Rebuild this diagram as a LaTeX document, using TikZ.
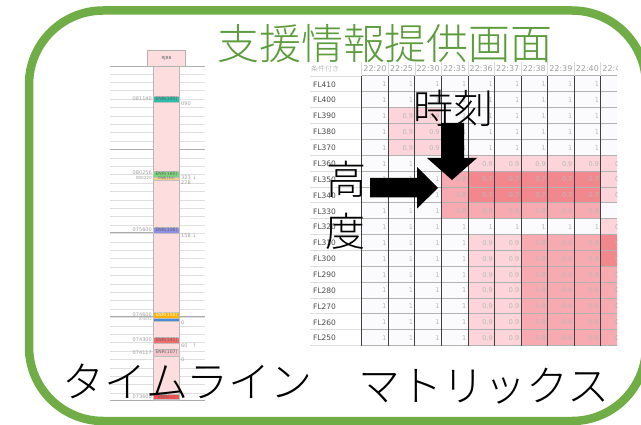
\documentclass[tikz,border=0pt]{standalone}
\usepackage{fontspec}
\setmainfont{DejaVu Sans}
\newfontfamily\cjk{Noto Sans CJK JP}[UprightFont={* Light}]
\definecolor{framegreen}{HTML}{70AD47}
\definecolor{titlegreen}{HTML}{5C9C3C}
\definecolor{colpink}{HTML}{FDDDDD}
\definecolor{ca}{HTML}{FBFBFD}
\definecolor{cb}{HTML}{FCD4D9}
\definecolor{cc}{HTML}{F7AAB0}
\definecolor{cd}{HTML}{F2888E}
\definecolor{evteal}{HTML}{2BBFAA}
\definecolor{evgreen}{HTML}{7CD67C}
\definecolor{evtan}{HTML}{F6CF8A}
\definecolor{evblue}{HTML}{8F8FE6}
\definecolor{evorange}{HTML}{FFB000}
\definecolor{evbar}{HTML}{4A8AD6}
\definecolor{evred}{HTML}{F36B6B}
\definecolor{evpink}{HTML}{F4C6CC}
\definecolor{evred2}{HTML}{F25050}
\def\laba{1}\def\labb{0.9}\def\labc{0.8}\def\labd{0.7}
\begin{document}
\begin{tikzpicture}[x=1pt,y=-1pt,
  jp/.style={font=\cjk\fontsize{41}{46}\selectfont, inner sep=0, anchor=base},
  tinytext/.style={font=\fontsize{5}{5.5}\selectfont, text=gray!75, inner sep=0},
  evbox/.style={draw=gray!50, line width=0.3pt, minimum width=26pt, inner sep=0, font=\fontsize{4.6}{5}\selectfont, text=black!60},
  rowlab/.style={font=\fontsize{7.5}{8}\selectfont, text=black!70, inner sep=0, anchor=west},
  cellnum/.style={font=\fontsize{6.5}{7}\selectfont, text=gray!55, inner sep=0, anchor=east},
  headlab/.style={font=\fontsize{8}{9}\selectfont, text=gray!75, inner sep=0},
  blockarrow/.style={fill=black}]
\useasboundingbox (0,0) rectangle (641,425);
\fill[white] (0,0) rectangle (641,425);

% ---------- frame ----------
\draw[framegreen, line width=8.5pt, rounded corners=74pt] (29,10.5) rectangle (646,421);

% ---------- timeline ----------
\foreach \k in {0,...,38}{
  \pgfmathsetmacro\yy{74+8.4*\k}
  \draw[gray!25, line width=0.6pt] (110,\yy) -- (153,\yy);
  \draw[gray!25, line width=0.6pt] (180,\yy) -- (205,\yy);
}
\draw[gray!65, line width=0.9pt] (110,66) -- (205,66);
\draw[gray!65, line width=0.9pt] (110,149) -- (205,149);
\draw[gray!65, line width=0.9pt] (110,232) -- (153,232);
\draw[gray!65, line width=0.9pt] (110,316) -- (205,316);
\draw[gray!65, line width=0.9pt] (110,400) -- (205,400);
\filldraw[fill=colpink, draw=gray!55, line width=0.6pt] (153.5,66) rectangle (179.5,400);
\node[draw=gray!60, fill=colpink, line width=0.6pt, minimum width=38pt, minimum height=16pt, inner sep=0,
      font=\fontsize{4.2}{5}\selectfont, text=black!60] (tlhead) at (166.5,58) {RJBB};

\node[evbox, fill=evteal, minimum height=6pt] (e1) at (166.5,99) {ENR(193)};
\node[tinytext, anchor=east] (e1l) at (152,99) {081140};
\node[tinytext, anchor=west] (e1r) at (181,104) {090 ~};

\node[evbox, fill=evgreen, minimum height=6pt] (e2) at (166.5,174) {ENR(160)};
\node[evbox, fill=evtan, minimum height=3.5pt, font=\fontsize{3.4}{4}\selectfont] (e3) at (166.5,178.8) {ENR(152)};
\node[tinytext, anchor=east] (e2l) at (152,172.8) {080256};
\node[tinytext, anchor=east, font=\fontsize{4.2}{5}\selectfont] (e3l) at (152,178.3) {080220};
\node[tinytext, anchor=west] (e2r) at (181,178) {323 ↓};
\node[tinytext, anchor=west] (e3r) at (181,183) {278 ~};

\node[evbox, fill=evblue, minimum height=6pt] (e4) at (166.5,230) {ENR(106)};
\node[tinytext, anchor=east] (e4l) at (152,230) {075600};
\node[tinytext, anchor=west] (e4r) at (181,236) {158 ↓};

\node[evbox, fill=evorange, minimum height=6pt, text=white] (e5) at (166.5,315) {ENR(150)};
\node[evbox, fill=evbar, minimum height=3pt] (e6) at (166.5,319.5) {};
\node[tinytext, anchor=east] (e5l) at (152,314.5) {074600};
\node[tinytext, anchor=east, font=\fontsize{3.4}{4}\selectfont] (e6l) at (152,319.5) {074532};
\node[tinytext, anchor=west] (e6r) at (181,322.5) {0};

\node[evbox, fill=evred, minimum height=6pt] (e7) at (166.5,340) {ENR(141)};
\node[tinytext, anchor=east] (e7l) at (152,340) {074300};
\node[tinytext, anchor=west] (e7r) at (181,346) {60\quad↑};

\node[evbox, fill=evpink, minimum height=7pt] (e8) at (166.5,352.5) {ENR(107)};
\node[tinytext, anchor=east] (e8l) at (152,352.5) {074117};
\node[tinytext, anchor=west] (e8r) at (181,359.5) {0};

\node[evbox, fill=evred2, minimum height=5pt] (e9) at (166.5,397) {ENR(...)};
\node[tinytext, anchor=east] (e9l) at (152,397) {073600};

% ---------- matrix ----------
\begin{scope}
\clip (300,55) rectangle (617,350);
\foreach \lab/\vals [count=\ri] in {
  FL410/{a,a,a,a,a,a,a,a,a,a},
  FL400/{a,a,a,a,a,a,a,a,a,a},
  FL390/{a,b,b,a,a,a,a,a,a,a},
  FL380/{a,b,b,a,a,a,a,a,a,a},
  FL370/{a,b,b,a,a,a,a,a,a,a},
  FL360/{a,a,a,a,b,b,b,b,b,b},
  FL350/{a,a,a,c,d,d,d,d,d,b},
  FL340/{a,a,a,c,d,d,d,d,d,b},
  FL330/{a,a,a,c,c,c,c,c,c,a},
  FL320/{a,a,a,a,a,a,a,a,a,b},
  FL310/{a,a,a,a,b,b,c,c,c,d},
  FL300/{a,a,a,a,b,b,c,c,c,d},
  FL290/{a,a,a,a,b,b,c,c,c,c},
  FL280/{a,a,a,a,b,b,c,c,c,c},
  FL270/{a,a,a,a,b,b,c,c,c,c},
  FL260/{a,a,a,a,b,b,c,c,c,c},
  FL250/{a,a,a,a,b,b,c,c,c,c}}{
  \pgfmathsetmacro\yt{76+15.86*(\ri-1)}
  \node[rowlab] (row\ri) at (313,\yt+8.4) {\lab};
  \foreach \v [count=\ci] in \vals {
    \pgfmathsetmacro\xl{361.7+26.55*(\ci-1)}
    \fill[c\v] (\xl,\yt) rectangle ++(26.55,15.86);
    \node[cellnum] (cell\ri-\ci) at (\xl+25,\yt+8.4) {\csname lab\v\endcsname};
  }
}
% grid
\foreach \r in {0,...,17}{
  \pgfmathsetmacro\yy{76+15.86*\r}
  \draw[gray!25, line width=0.8pt] (310,\yy) -- (361.7,\yy);
  \draw[gray!60, line width=1pt] (361.7,\yy) -- (617,\yy);
}
\foreach \c in {0,...,10}{
  \pgfmathsetmacro\xx{361.7+26.55*\c}
  \draw[black!75, line width=0.7pt] (\xx,76) -- (\xx,346.5);
  \draw[gray!30, line width=0.6pt] (\xx,62) -- (\xx,76);
}
% header
\node[font=\cjk\fontsize{7}{8}\selectfont, text=gray!75, inner sep=0, anchor=west] (hcorner) at (311,68.5) {条件付き};
\foreach \t [count=\ci] in {22:20,22:25,22:30,22:35,22:36,22:37,22:38,22:39,22:40,22:41}{
  \pgfmathsetmacro\xl{361.7+26.55*(\ci-1)}
  \node[headlab] (head\ci) at (\xl+13.3,68.5) {\t};
}
\end{scope}

% ---------- title ----------
\node[jp, font=\cjk\fontsize{42}{48}\selectfont, text=titlegreen] (title) at (385,60) {支援情報提供画面};

% ---------- arrows and axis labels ----------
\node[jp, font=\cjk\fontsize{40}{46}\selectfont] (jikoku) at (453.5,124) {時刻};
\node[jp, font=\cjk\fontsize{40}{46}\selectfont] (kou) at (346,195) {高};
\node[jp, font=\cjk\fontsize{40}{46}\selectfont] (do) at (345,247) {度};
\fill[blockarrow] (441,123) -- (464,123) -- (464,158) -- (477,158) -- (452,180) -- (427,158) -- (441,158) -- cycle;
\fill[blockarrow] (370,178) -- (417,178) -- (417,167) -- (438,188) -- (417,208.5) -- (417,197.5) -- (370,197.5) -- cycle;

% ---------- bottom labels ----------
\node[jp, font=\cjk\fontsize{42}{48}\selectfont] (timeline) at (187.5,398) {タイムライン};
\node[jp, font=\cjk\fontsize{42}{48}\selectfont] (matrix) at (484,402) {マトリックス};
\end{tikzpicture}
\end{document}
